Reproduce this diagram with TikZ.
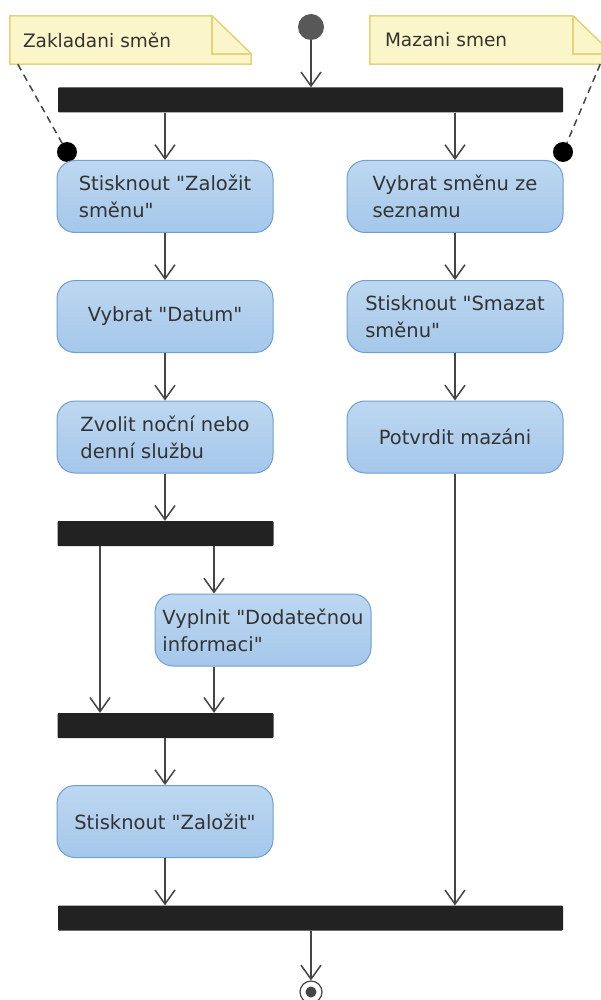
\documentclass[tikz,border=0pt]{standalone}
\usepackage{fontspec}
\setmainfont{DejaVu Sans}
\usetikzlibrary{arrows.meta}

\definecolor{acttop}{HTML}{BDD8F1}
\definecolor{actbot}{HTML}{A5C7EA}
\definecolor{actline}{HTML}{6F9FD3}
\definecolor{notefill}{HTML}{FBF6C9}
\definecolor{noteline}{HTML}{E2D47A}
\definecolor{barcol}{HTML}{222222}
\definecolor{flowcol}{HTML}{454545}
\definecolor{txt}{HTML}{333333}
\newcommand{\qt}{\textquotedbl}

\begin{document}
\begin{tikzpicture}[x=1pt,y=-1pt,
  >={Straight Barb[length=14pt,width=20pt]},
  action/.style={rectangle,rounded corners=18pt,draw=actline,line width=1pt,
    top color=acttop,bottom color=actbot,minimum width=216pt,minimum height=72pt,
    align=left,text=txt,font=\fontsize{19.5}{27}\selectfont},
  bar/.style={rectangle,fill=barcol,inner sep=0pt,minimum height=25pt,rounded corners=1pt},
  flow/.style={->,draw=flowcol,line width=1.5pt},
  note/.style={rectangle,fill=notefill,text=txt,align=left,minimum height=48pt,
    inner ysep=0pt,font=\fontsize{18.5}{23}\selectfont},
  noteedge/.style={draw=noteline,line width=1.5pt},
  pin/.style={circle,fill=black,inner sep=0pt,minimum size=20pt},
  notelink/.style={draw=flowcol,line width=1.5pt,dash pattern=on 7pt off 5pt}]
  \useasboundingbox (0,0) rectangle (601,1000);

  % notes
  \node[note,text width=215pt,inner xsep=13pt] (noteA) at (130.5,40) {Zakladani směn};
  \node[note,text width=212pt,inner xsep=15pt] (noteB) at (491,40) {Mazani smen};
  \foreach \n in {noteA,noteB}
  {
    \fill[white] ([xshift=-39pt]\n.north east) -- (\n.north east) -- ([yshift=-38pt]\n.north east) -- cycle;
    \draw[noteedge] (\n.north west) -- ([xshift=-39pt]\n.north east) -- ([yshift=-38pt]\n.north east)
      -- (\n.south east) -- (\n.south west) -- cycle;
    \draw[noteedge] ([xshift=-39pt]\n.north east) |- ([yshift=-38pt]\n.north east);
  }
  \node[pin] (pinA) at (67,152) {};
  \node[pin] (pinB) at (563,152) {};
  \draw[notelink] ([xshift=8pt]noteA.south west) -- (pinA);
  \draw[notelink] ([xshift=-12pt]noteB.south east) -- (pinB);

  % start, bars, end
  \node[circle,fill=flowcol!90,inner sep=0pt,minimum size=26pt] (start) at (311,27) {};
  \node[bar,minimum width=505pt] (bar1) at (310.5,100) {};
  \node[bar,minimum width=216pt] (bar2) at (165.5,533.5) {};
  \node[bar,minimum width=216pt] (bar3) at (165.5,725.5) {};
  \node[bar,minimum width=505pt] (bar4) at (310.5,918) {};
  \node[circle,draw=flowcol,line width=1.2pt,fill=white,inner sep=0pt,minimum size=22pt,
    path picture={\fill[flowcol] (path picture bounding box.center) circle (5.5pt);}] (stop) at (311,992) {};

  % actions
  \node[action] (add1) at (165,196.5) {Stisknout \qt Založit\\směnu\qt};
  \node[action] (add2) at (165,316.5) {Vybrat \qt Datum\qt};
  \node[action] (add3) at (165,437) {Zvolit noční nebo\\denní službu};
  \node[action] (add4) at (263,630) {Vyplnit \qt Dodatečnou\\informaci\qt};
  \node[action] (add5) at (165,821.5) {Stisknout \qt Založit\qt};
  \node[action] (del1) at (455,196.5) {Vybrat směnu ze\\seznamu};
  \node[action] (del2) at (455,316.5) {Stisknout \qt Smazat\\směnu\qt};
  \node[action] (del3) at (455,437) {Potvrdit mazáni};
  \coordinate (skip) at (100,0);
  \coordinate (extra) at (214,0);

  % flows
  \draw[flow] (start) -- (start |- bar1.north);
  \draw[flow] (bar1.south -| add1) -- (add1);
  \draw[flow] (bar1.south -| del1) -- (del1);
  \draw[flow] (add1) -- (add2);
  \draw[flow] (add2) -- (add3);
  \draw[flow] (add3) -- (add3 |- bar2.north);
  \draw[flow] (skip |- bar2.south) -- (skip |- bar3.north);
  \draw[flow] (extra |- bar2.south) -- (extra |- add4.north);
  \draw[flow] (extra |- add4.south) -- (extra |- bar3.north);
  \draw[flow] (bar3.south -| add5) -- (add5);
  \draw[flow] (add5) -- (add5 |- bar4.north);
  \draw[flow] (del1) -- (del2);
  \draw[flow] (del2) -- (del3);
  \draw[flow] (del3) -- (del3 |- bar4.north);
  \draw[flow] (bar4.south -| stop) -- (stop);
\end{tikzpicture}
\end{document}
